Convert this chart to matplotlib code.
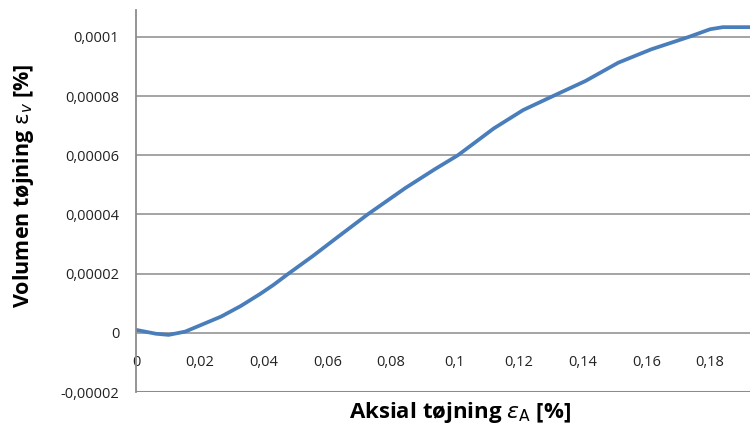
import matplotlib
matplotlib.use("Agg")
import matplotlib.pyplot as plt

# aflæste punkter (aksial tøjning [%], volumen tøjning [%])
aksial = [0.0, 0.0062, 0.0102, 0.0154, 0.0205, 0.0267, 0.0329, 0.039, 0.0431,
          0.0478, 0.0555, 0.0629, 0.0726, 0.0844, 0.0937, 0.1009, 0.106, 0.1122,
          0.1214, 0.1307, 0.1409, 0.1512, 0.1615, 0.1733, 0.18, 0.184, 0.1925]
volumen = [1.0e-6, -0.3e-6, -0.7e-6, 0.4e-6, 2.7e-6, 5.5e-6, 9.1e-6, 13.2e-6, 16.2e-6,
           20e-6, 26e-6, 32.1e-6, 40e-6, 48.9e-6, 55.3e-6, 60e-6, 64.1e-6, 69.1e-6,
           75.3e-6, 80e-6, 85.1e-6, 91.3e-6, 95.8e-6, 100e-6, 102.6e-6, 103.3e-6, 103.3e-6]

xticks = [0, 0.02, 0.04, 0.06, 0.08, 0.1, 0.12, 0.14, 0.16, 0.18]
xlabels = ['0', '0,02', '0,04', '0,06', '0,08', '0,1', '0,12', '0,14', '0,16', '0,18']
yticks = [-0.00002, 0, 0.00002, 0.00004, 0.00006, 0.00008, 0.0001]
ylabels = ['-0,00002', '0', '0,00002', '0,00004', '0,00006', '0,00008', '0,0001']

plt.rcParams['font.family'] = ['Open Sans', 'DejaVu Sans']
grey = '#8c8c8c'

fig = plt.figure(figsize=(7.5, 4.3), dpi=100)
ax = fig.add_axes([136/750, 38/430, 1 - 136/750, 382/430])

ax.plot(aksial, volumen, color='#4a7ebb', lw=2.7, solid_capstyle='round',
        solid_joinstyle='round')

ax.set_xlim(0, 0.1925)
ax.set_ylim(-0.00002, 0.0001091)

ax.set_yticks(yticks)
ax.set_yticklabels(ylabels)
ax.set_xticks(xticks)
ax.set_xticklabels(xlabels)
for y in yticks[1:]:
    ax.axhline(y, color=grey, lw=1.1, zorder=0)
ax.axhline(-0.00002, color=grey, lw=1.5, zorder=0)

for s in ['top', 'right']:
    ax.spines[s].set_visible(False)
ax.spines['left'].set_color(grey)
ax.spines['left'].set_linewidth(1.3)
ax.spines['bottom'].set_position(('data', 0))
ax.spines['bottom'].set_visible(False)

ax.tick_params(axis='y', length=0, pad=12, labelsize=10.5, labelcolor='#222222')
ax.tick_params(axis='x', length=0, pad=16, labelsize=10.5, labelcolor='#222222')

ax.set_xlabel(r'Aksial tøjning $\varepsilon_{\mathrm{A}}$ [%]', fontsize=16,
              fontweight='bold')
ax.set_ylabel(r'Volumen tøjning $\mathrm{\epsilon}_{v}$ [%]', fontsize=15.5,
              fontweight='bold')
ax.xaxis.set_label_coords(0.528, -0.022)
ax.yaxis.set_label_coords(-0.163, 0.539)

fig.savefig('out.png', dpi=100)
